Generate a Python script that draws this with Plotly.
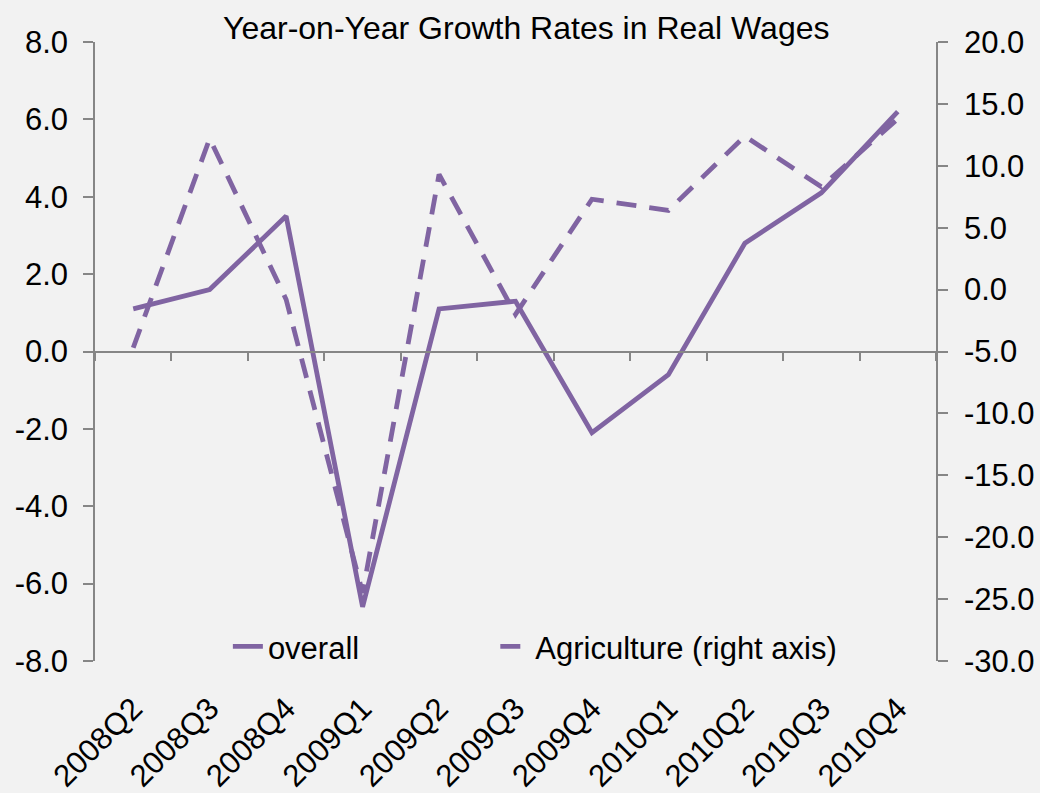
import plotly.graph_objects as go

# Quarterly year-on-year growth in real wages (%)
quarters = ["2008Q2", "2008Q3", "2008Q4", "2009Q1", "2009Q2", "2009Q3",
            "2009Q4", "2010Q1", "2010Q2", "2010Q3", "2010Q4"]
overall = [1.1, 1.6, 3.5, -6.6, 1.1, 1.3, -2.1, -0.6, 2.8, 4.1, 6.2]
agriculture = [-4.7, 12.2, -0.8, -24.5, 9.3, -2.0, 7.3, 6.4, 12.4, 8.3, 13.8]

left_ticks = [-8, -6, -4, -2, 0, 2, 4, 6, 8]
right_ticks = [-30, -25, -20, -15, -10, -5, 0, 5, 10, 15, 20]

PURPLE = "#8064A2"
AXIS_GRAY = "#868686"
BG = "#F2F2F2"
FONT = "Liberation Sans, Arial, sans-serif"
FS_TITLE = 32
FS = 31

fig = go.Figure()
fig.add_trace(go.Scatter(
    x=quarters, y=overall, name="overall", mode="lines",
    line=dict(color=PURPLE, width=4.8), legend="legend",
))
fig.add_trace(go.Scatter(
    x=quarters, y=agriculture, name="Agriculture (right axis)", mode="lines",
    yaxis="y2", line=dict(color=PURPLE, width=4.8, dash="20px,13px"),
    legend="legend2",
))
# invisible helper so the category-boundary axis along zero gets drawn
fig.add_trace(go.Scatter(
    x=[0, len(quarters)], y=[0, 0], xaxis="x2", yaxis="y", mode="lines",
    line=dict(width=0), opacity=0, showlegend=False, hoverinfo="skip",
))


def labels(vals):
    # plain hyphen-minus, one decimal
    return [f"{v:.1f}" for v in vals]


axis_common = dict(
    showgrid=False, zeroline=False, showline=True, linecolor=AXIS_GRAY,
    linewidth=1.5, ticks="outside", ticklen=10, tickwidth=1.5,
    tickcolor=AXIS_GRAY, automargin=False,
    tickfont=dict(family=FONT, size=FS, color="black"),
)

legend_common = dict(
    orientation="h", xanchor="left", y=0.023, yanchor="middle",
    bgcolor="rgba(0,0,0,0)",
    font=dict(family=FONT, size=FS, color="black"),
)

fig.update_layout(
    width=1040, height=793,
    margin=dict(l=95, r=104, t=42, b=132, autoexpand=False),
    paper_bgcolor=BG, plot_bgcolor=BG,
    font=dict(family=FONT, size=FS, color="black"),
    title=dict(text="Year-on-Year Growth Rates in Real Wages",
               x=0.506, xanchor="center", y=0.965, yanchor="middle",
               font=dict(family=FONT, size=FS_TITLE, color="black")),
    xaxis=dict(type="category", range=[-0.5, len(quarters) - 0.5],
               showgrid=False, zeroline=False, showline=False, ticks="",
               tickangle=-45, ticklabelstandoff=22, automargin=False,
               tickfont=dict(family=FONT, size=FS, color="black")),
    xaxis2=dict(overlaying="x", anchor="free", position=0.5,
                range=[0, len(quarters)],
                tickvals=list(range(len(quarters) + 1)),
                showticklabels=False, showgrid=False, zeroline=False,
                showline=True, linecolor=AXIS_GRAY, linewidth=2,
                ticks="outside", ticklen=8, tickwidth=1.5,
                tickcolor=AXIS_GRAY, automargin=False),
    yaxis=dict(range=[-8, 8], tickvals=left_ticks,
               ticktext=labels(left_ticks), ticklabelstandoff=9,
               **axis_common),
    yaxis2=dict(range=[-30, 20], tickvals=right_ticks,
                ticktext=labels(right_ticks), overlaying="y",
                side="right", ticklabelstandoff=10, **axis_common),
    legend=dict(x=0.158, **legend_common),
    legend2=dict(x=0.476, **legend_common),
    showlegend=True,
)

fig.write_html("out.html")
